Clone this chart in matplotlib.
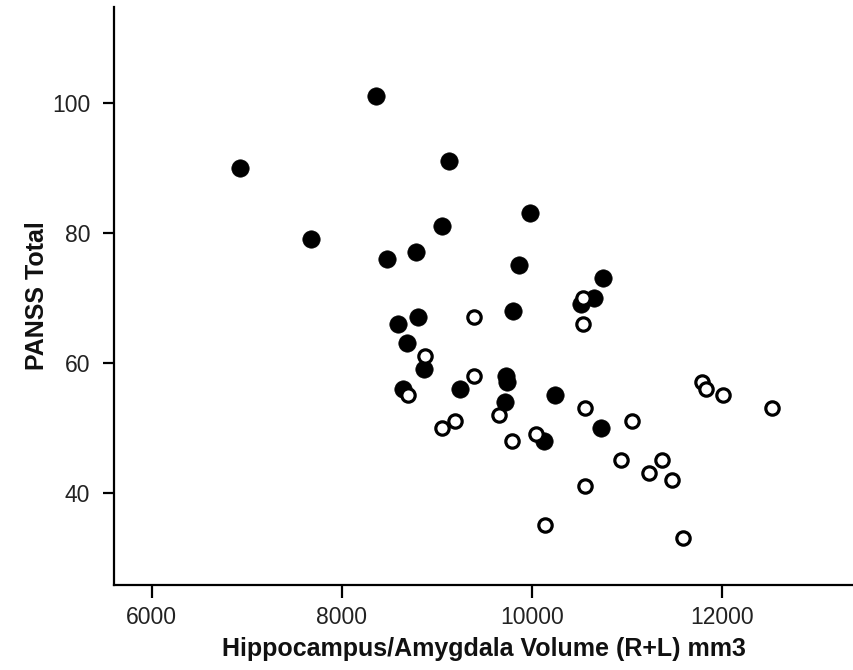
import matplotlib
matplotlib.use("Agg")
import matplotlib.pyplot as plt

# Filled circles (group 1)
filled_volume = [6930, 7680, 8361, 9133, 9053, 8474, 8782, 9983, 9863, 10747,
                 10659, 10516, 9800, 8800, 8589, 8684, 8866, 8649, 9242, 9729,
                 9737, 9719, 10245, 10733, 10129]
filled_panss = [90, 79, 101, 91, 81, 76, 77, 83, 75, 73,
                70, 69, 68, 67, 66, 63, 59, 56, 56, 58,
                57, 54, 55, 50, 48]

# Open circles (group 2)
open_volume = [9396, 10537, 10543, 8874, 8695, 9396, 9193, 9059, 9659, 9789,
               10042, 10561, 11056, 10944, 11375, 11235, 11474, 10561, 10140, 11596,
               11796, 11831, 12017, 12526]
open_panss = [67, 70, 66, 61, 55, 58, 51, 50, 52, 48,
              49, 53, 51, 45, 45, 43, 42, 41, 35, 33,
              57, 56, 55, 53]

x_ticks = [6000, 8000, 10000, 12000]
y_ticks = [40, 60, 80, 100]
x_label = "Hippocampus/Amygdala Volume (R+L) mm3"
y_label = "PANSS Total"

plt.rcParams['font.family'] = ['Liberation Sans', 'DejaVu Sans']

W, H = 854, 670
fig = plt.figure(figsize=(W / 100, H / 100), dpi=100)
ax = fig.add_axes([114 / W, 1 - 585 / H, (854 - 114) / W, (585 - 7) / H])

ax.scatter(filled_volume, filled_panss, s=12.5 ** 2, c='black', edgecolors='black',
           linewidths=0.5, zorder=3)
ax.scatter(open_volume, open_panss, s=9.6 ** 2, facecolors='white', edgecolors='black',
           linewidths=2.3, zorder=4)

ax.set_xlim(5603, 13393)
ax.set_ylim(25.8, 114.7)
ax.set_xticks(x_ticks)
ax.set_yticks(y_ticks)
ax.set_xticklabels([str(t) for t in x_ticks])
ax.set_yticklabels([str(t) for t in y_ticks])

for side in ['top', 'right']:
    ax.spines[side].set_visible(False)
for side in ['left', 'bottom']:
    ax.spines[side].set_linewidth(1.6)
    ax.spines[side].set_color('black')

ax.tick_params(axis='x', length=9.5, width=1.6, pad=5.5, labelsize=16.5, colors='black',
               labelcolor='#222222')
ax.tick_params(axis='y', length=8.2, width=1.6, pad=9, labelsize=16.5, colors='black',
               labelcolor='#222222')

ax.set_xlabel(x_label, fontsize=18, fontweight='bold', labelpad=6, color='#111111')
ax.set_ylabel(y_label, fontsize=18, fontweight='bold', labelpad=2, color='#111111')

fig.savefig("out.png", dpi=100)
